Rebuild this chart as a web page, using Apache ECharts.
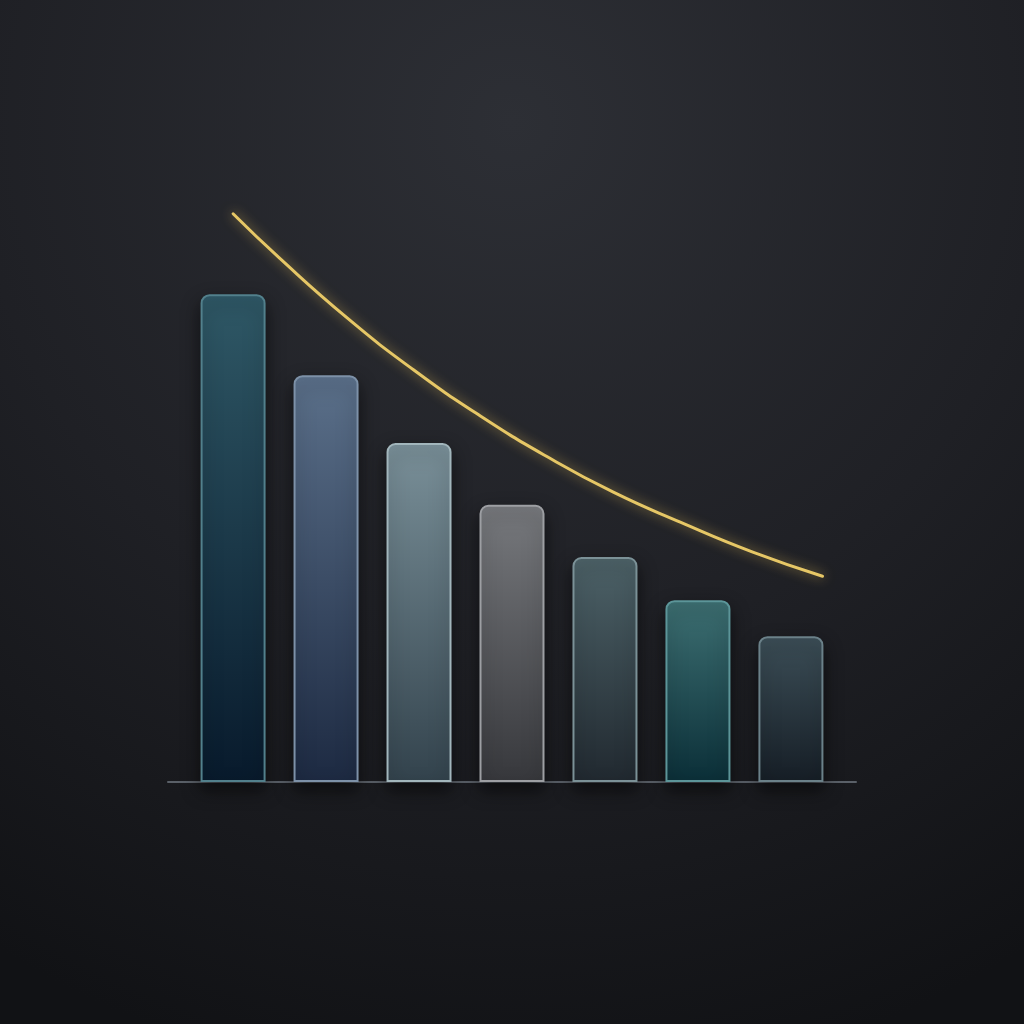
<!DOCTYPE html>
<html>
<head>
<meta charset="utf-8">
<style>
  html, body { margin: 0; padding: 0; background: #1a1b1f; }
  #chart { width: 1024px; height: 1024px; }
</style>
<script src="https://cdn.jsdelivr.net/npm/echarts@6/dist/echarts.min.js"></script>
</head>
<body>
<div id="chart"></div>
<script>
// bar positions (1..7) and heights
const barX = [1, 2, 3, 4, 5, 6, 7];
const barValues = [81.3, 67.8, 56.5, 46.2, 37.5, 30.3, 24.3];

// golden trend curve
const curveX = [1.0, 1.5, 2.23, 2.94, 3.66, 4.38, 5.09, 5.81, 6.59, 7.34];
const curveY = [94.7, 87.3, 77.3, 68.7, 61.0, 54.2, 48.3, 43.3, 38.3, 34.3];

// per-bar colours: top, bottom, edge
const barTop = ['#2f5866', '#5b708a', '#7a9099', '#77797d', '#4d6268', '#3d6f72', '#3c4e57'];
const barBottom = ['#081a2c', '#1d2a42', '#33434d', '#37383c', '#212930', '#0b2f38', '#161e26'];
const barEdge = ['#52808c', '#7d91a8', '#a2b6bc', '#9d9fa3', '#7b9197', '#5c9599', '#6b8189'];

const chart = echarts.init(document.getElementById('chart'));

const barData = barX.map((x, i) => ({
  value: [x, barValues[i]],
  itemStyle: {
    color: new echarts.graphic.LinearGradient(0, 0, 0, 1, [
      { offset: 0, color: barTop[i] },
      { offset: 1, color: barBottom[i] }
    ]),
    borderColor: barEdge[i],
    borderWidth: 2,
    borderRadius: [8, 8, 0, 0],
    shadowColor: 'rgba(0,0,0,0.55)',
    shadowBlur: 18,
    shadowOffsetY: 8
  }
}));

chart.setOption({
  backgroundColor: {
    type: 'radial', x: 0.5, y: 0.12, r: 0.95,
    colorStops: [
      { offset: 0, color: '#2d2f35' },
      { offset: 0.55, color: '#1f2025' },
      { offset: 1, color: '#111215' }
    ]
  },
  animation: false,
  grid: { left: 168, right: 168, top: 182, bottom: 242 },
  xAxis: {
    type: 'value', min: 0.3, max: 7.7,
    splitLine: { show: false },
    axisTick: { show: false },
    axisLabel: { show: false },
    axisLine: { show: true, onZero: false, lineStyle: { color: '#5a6068', width: 2 } }
  },
  yAxis: {
    type: 'value', min: 0, max: 100,
    show: false
  },
  series: [
    {
      type: 'bar',
      barWidth: 65,
      data: barData,
      z: 2
    },
    {
      type: 'line',
      smooth: 0.5,
      symbol: 'none',
      data: curveX.map((x, i) => [x, curveY[i]]),
      lineStyle: {
        color: '#e6c766',
        width: 3,
        cap: 'round',
        shadowColor: 'rgba(235,195,90,0.7)',
        shadowBlur: 12
      },
      z: 3
    }
  ]
});
</script>
</body>
</html>
